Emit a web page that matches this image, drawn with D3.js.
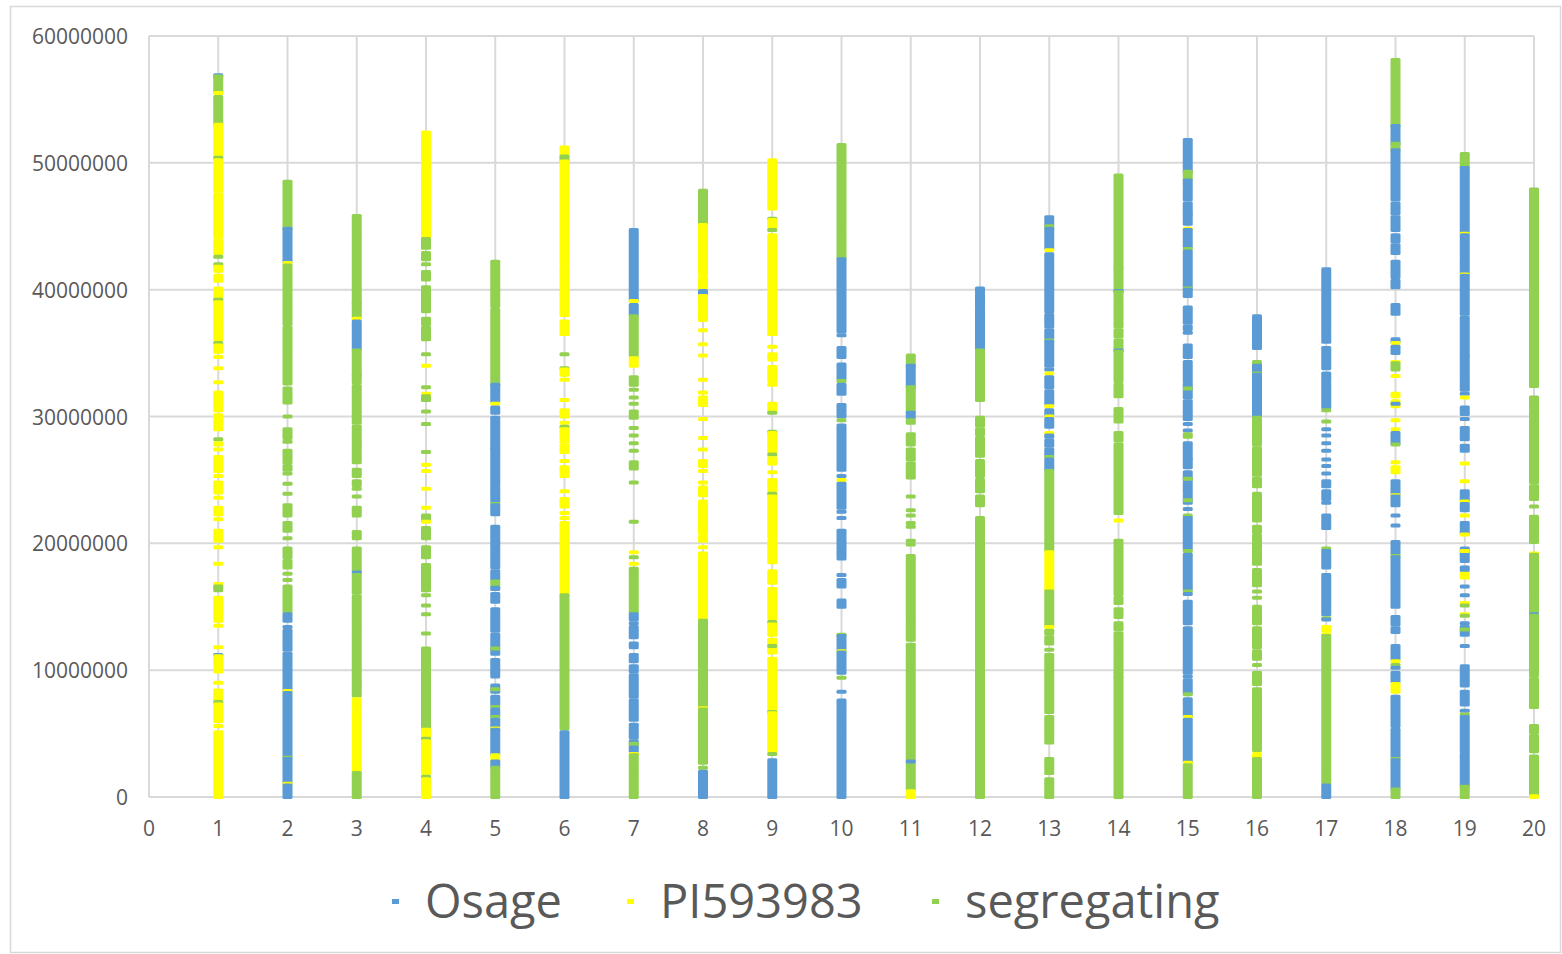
<!DOCTYPE html>
<html>
<head>
<meta charset="utf-8">
<script src="https://cdn.jsdelivr.net/npm/d3@7"></script>
<style>
body{margin:0;background:#fff}
text{font-family:"Open Sans",sans-serif;fill:#595959}
</style>
</head>
<body>
<svg></svg>
<script>
// genotype runs per chromosome: [start Mb, end Mb, call]
// O = Osage, P = PI593983, S = segregating
var chr1=[[56.8,56.9,"O"],[55.6,56.8,"S"],[55.5,55.5,"P"],[53.0,55.2,"S"],[50.5,53.0,"P"],[50.4,50.4,"S"],[47.8,50.2,"P"],[44.2,47.5,"P"],[42.9,43.9,"P"],[42.6,42.6,"S"],[42.0,42.0,"S"],[41.5,41.8,"P"],[40.7,41.1,"P"],[39.3,40.1,"P"],[39.2,39.2,"S"],[37.6,39.0,"P"],[36.1,37.4,"P"],[35.8,35.8,"S"],[35.1,35.6,"P"],[34.7,34.7,"P"],[33.8,33.8,"P"],[32.7,32.7,"P"],[30.5,31.9,"P"],[29.0,30.1,"P"],[28.2,28.2,"S"],[27.8,27.9,"P"],[27.4,27.4,"P"],[25.7,26.8,"P"],[25.3,25.3,"P"],[24.0,24.8,"P"],[23.6,23.6,"P"],[22.3,22.8,"P"],[21.9,21.9,"P"],[20.2,21.0,"P"],[19.7,19.7,"P"],[18.4,18.4,"P"],[16.6,16.8,"P"],[16.3,16.6,"S"],[13.9,15.7,"P"],[13.5,13.5,"P"],[11.8,11.8,"P"],[11.2,11.2,"O"],[9.9,11.1,"P"],[9.0,9.0,"P"],[7.7,8.4,"P"],[7.5,7.5,"S"],[6.0,7.3,"P"],[5.6,5.6,"P"],[1.3,5.1,"P"],[0,1.1,"P"]]
var chr2=[[44.8,48.5,"S"],[42.2,44.8,"O"],[42.1,42.1,"P"],[39.3,41.9,"S"],[37.3,39.1,"S"],[35.0,37.0,"S"],[32.6,34.8,"S"],[31.1,32.2,"S"],[30.0,30.0,"S"],[28.3,29.0,"S"],[28.0,28.0,"S"],[26.4,27.3,"S"],[25.8,26.1,"S"],[25.5,25.5,"S"],[24.7,24.7,"S"],[23.9,23.9,"S"],[22.2,23.0,"S"],[21.0,21.6,"S"],[20.4,20.4,"S"],[18.9,19.6,"S"],[18.1,18.6,"S"],[17.6,17.6,"S"],[17.1,17.1,"S"],[14.6,16.6,"S"],[13.9,14.4,"O"],[13.4,13.4,"O"],[12.5,13.1,"O"],[11.6,12.3,"O"],[10.8,11.3,"O"],[8.4,10.6,"O"],[8.35,8.35,"P"],[7.1,8.2,"O"],[3.2,6.9,"O"],[3.1,3.1,"S"],[1.1,3.0,"O"],[1.05,1.05,"P"],[0,0.9,"O"]]
var chr3=[[44.1,45.8,"S"],[38.9,43.9,"S"],[37.8,38.9,"S"],[37.7,37.7,"P"],[35.3,37.5,"O"],[33.3,35.2,"S"],[32.7,33.2,"S"],[29.5,32.4,"S"],[27.9,29.2,"S"],[26.4,27.7,"S"],[25.3,25.8,"S"],[24.6,24.9,"S"],[24.3,24.3,"S"],[23.7,23.7,"S"],[22.2,22.8,"S"],[20.7,20.9,"S"],[20.4,20.5,"S"],[17.8,19.6,"S"],[17.7,17.7,"O"],[16.1,17.5,"S"],[13.4,15.8,"S"],[9.2,13.2,"S"],[8.0,9.0,"S"],[7.0,7.7,"P"],[2.0,6.7,"P"],[0,1.9,"S"]]
var chr4=[[48.0,52.4,"P"],[45.1,47.9,"P"],[44.0,45.0,"P"],[43.3,44.0,"S"],[42.4,42.9,"S"],[42.0,42.0,"S"],[40.8,41.4,"S"],[39.1,40.2,"S"],[38.3,38.9,"S"],[37.3,37.7,"S"],[36.6,37.0,"S"],[36.1,36.4,"S"],[34.9,34.9,"S"],[34.0,34.0,"P"],[32.3,32.3,"S"],[31.8,31.8,"P"],[31.3,31.6,"S"],[30.4,30.4,"S"],[29.4,29.4,"S"],[27.2,27.2,"S"],[26.2,26.2,"P"],[25.7,25.7,"P"],[24.3,24.3,"P"],[22.8,22.8,"P"],[21.8,22.2,"S"],[21.7,21.7,"P"],[20.4,21.2,"S"],[18.9,19.7,"S"],[16.3,18.3,"S"],[15.9,15.9,"S"],[15.1,15.1,"S"],[14.4,14.4,"S"],[12.9,12.9,"S"],[5.3,11.7,"S"],[4.7,5.3,"P"],[4.6,4.6,"S"],[1.9,4.4,"P"],[1.6,1.6,"S"],[0,1.4,"P"]]
var chr5=[[38.7,42.2,"S"],[32.5,38.4,"S"],[31.2,32.5,"O"],[31.0,31.0,"P"],[30.3,30.7,"O"],[27.5,29.9,"O"],[24.5,27.4,"O"],[23.3,24.3,"O"],[23.1,23.1,"S"],[22.3,23.0,"O"],[18.1,21.3,"O"],[17.2,17.8,"O"],[16.7,17.0,"S"],[16.4,16.5,"O"],[15.4,16.0,"O"],[13.1,14.8,"O"],[12.3,12.8,"O"],[11.3,12.1,"O"],[11.7,11.7,"S"],[9.8,10.8,"O"],[9.5,9.6,"O"],[8.3,8.8,"O"],[8.5,8.5,"S"],[7.3,7.9,"O"],[7.1,7.1,"S"],[6.4,6.9,"O"],[6.3,6.3,"S"],[5.6,6.1,"O"],[5.4,5.4,"P"],[3.4,5.3,"O"],[2.9,3.3,"P"],[2.4,2.8,"O"],[0,2.3,"S"]]
var chr6=[[50.5,51.2,"P"],[50.2,50.5,"S"],[44.2,50.1,"P"],[42.7,44.0,"P"],[42.0,42.5,"P"],[38.0,41.7,"P"],[36.5,37.5,"P"],[34.9,34.9,"S"],[33.8,33.8,"S"],[33.3,33.7,"P"],[32.9,32.9,"P"],[31.3,31.3,"P"],[30.0,30.5,"P"],[29.5,29.5,"P"],[29.2,29.2,"S"],[28.3,29.0,"P"],[28.0,28.0,"P"],[27.2,27.7,"P"],[26.5,26.5,"P"],[25.6,26.0,"P"],[25.3,25.3,"P"],[24.1,24.1,"P"],[22.9,23.5,"P"],[22.4,22.4,"P"],[22.0,22.0,"P"],[15.9,21.6,"P"],[9.1,15.9,"S"],[5.4,8.9,"S"],[4.1,5.1,"O"],[3.8,3.9,"O"],[0,3.6,"O"]]
var chr7=[[39.2,44.7,"O"],[39.1,39.1,"P"],[38.0,38.8,"O"],[34.8,37.9,"S"],[34.0,34.6,"P"],[32.5,33.1,"S"],[32.1,32.1,"S"],[31.5,31.5,"S"],[31.0,31.0,"S"],[29.9,30.4,"S"],[29.1,29.1,"S"],[28.5,28.5,"S"],[27.9,27.9,"S"],[27.3,27.3,"S"],[25.9,26.4,"S"],[24.8,24.8,"S"],[21.7,21.7,"S"],[19.3,19.3,"P"],[18.9,18.9,"S"],[18.4,18.4,"P"],[14.8,18.0,"S"],[14.6,14.6,"S"],[14.0,14.4,"O"],[13.7,13.7,"O"],[12.6,13.4,"O"],[11.8,12.1,"O"],[10.7,11.2,"O"],[9.9,10.3,"O"],[7.9,9.6,"O"],[6.1,7.6,"O"],[4.7,5.7,"O"],[4.2,4.4,"O"],[4.0,4.2,"S"],[3.6,3.9,"O"],[3.4,3.4,"P"],[2.3,3.3,"S"],[0,2.1,"S"]]
var chr8=[[45.1,47.8,"S"],[41.3,45.1,"P"],[40.0,41.0,"P"],[39.7,39.9,"O"],[38.5,39.5,"P"],[37.6,38.3,"P"],[36.8,36.8,"P"],[35.7,35.7,"P"],[34.8,34.8,"P"],[32.9,32.9,"P"],[31.9,31.9,"P"],[30.9,31.5,"P"],[29.8,29.8,"P"],[28.3,28.3,"P"],[27.4,27.4,"P"],[26.1,26.5,"P"],[25.7,25.7,"P"],[24.8,24.8,"P"],[23.8,24.4,"P"],[20.8,23.3,"P"],[20.2,20.5,"P"],[19.7,19.7,"P"],[14.0,19.2,"P"],[13.4,13.9,"S"],[9.2,13.2,"S"],[7.1,9.0,"S"],[7.0,7.0,"P"],[2.7,6.9,"S"],[2.3,2.3,"S"],[0,2.0,"O"]]
var chr9=[[48.8,50.2,"P"],[48.1,48.7,"P"],[47.5,47.9,"P"],[46.4,47.3,"P"],[45.6,45.6,"S"],[44.9,45.5,"P"],[44.7,44.7,"S"],[36.5,44.3,"P"],[35.5,35.5,"P"],[34.5,34.9,"P"],[32.8,33.9,"P"],[32.5,32.5,"P"],[30.4,31.0,"P"],[30.3,30.3,"S"],[28.8,28.8,"S"],[27.2,28.7,"P"],[27.0,27.0,"S"],[26.3,26.7,"P"],[25.6,25.6,"P"],[24.0,25.0,"P"],[23.9,23.9,"S"],[20.5,23.7,"P"],[18.5,20.2,"P"],[16.9,17.8,"P"],[14.1,16.4,"P"],[13.8,13.8,"S"],[12.8,13.6,"P"],[11.4,12.4,"P"],[11.9,11.9,"S"],[6.8,10.9,"P"],[6.7,6.7,"S"],[3.6,6.6,"P"],[3.4,3.4,"S"],[0,2.9,"O"]]
var chr10=[[45.1,51.4,"S"],[42.5,44.9,"S"],[40.9,42.4,"O"],[36.7,40.7,"O"],[36.4,36.4,"O"],[34.7,35.4,"O"],[33.0,34.1,"O"],[32.8,32.8,"S"],[31.8,32.5,"O"],[30.0,30.9,"O"],[29.7,29.7,"S"],[25.8,29.3,"O"],[25.3,25.3,"O"],[25.0,25.0,"P"],[24.2,24.7,"O"],[22.8,24.0,"O"],[22.5,22.5,"O"],[22.0,22.0,"O"],[18.8,21.0,"O"],[17.5,17.5,"O"],[16.6,17.1,"O"],[15.0,15.5,"O"],[12.8,12.8,"S"],[11.6,12.7,"O"],[11.5,11.5,"P"],[9.8,11.4,"O"],[9.4,9.4,"S"],[8.3,8.3,"O"],[7.0,7.6,"O"],[5.3,6.8,"O"],[0,5.1,"O"]]
var chr11=[[34.0,34.8,"S"],[32.3,34.0,"O"],[30.4,32.3,"S"],[29.9,30.3,"O"],[29.5,29.7,"S"],[27.8,28.6,"S"],[26.6,27.4,"S"],[25.2,26.3,"S"],[23.7,23.7,"S"],[22.6,22.6,"S"],[22.2,22.2,"S"],[21.6,21.6,"S"],[21.3,21.3,"S"],[20.2,20.2,"S"],[19.9,19.9,"S"],[14.1,19.0,"S"],[12.4,13.9,"S"],[11.6,12.0,"S"],[0.6,11.4,"S"],[2.8,2.8,"O"],[0,0.45,"P"]]
var chr12=[[39.8,40.1,"O"],[38.7,39.6,"O"],[37.6,38.5,"O"],[35.4,37.5,"O"],[31.3,35.2,"S"],[29.3,29.9,"S"],[28.6,29.0,"S"],[27.4,28.3,"S"],[26.9,27.2,"S"],[25.8,26.5,"S"],[25.3,25.6,"S"],[24.5,25.0,"S"],[24.1,24.3,"S"],[23.0,23.7,"S"],[20.2,22.0,"S"],[19.0,20.0,"S"],[16.7,18.9,"S"],[16.1,16.5,"S"],[14.7,15.9,"S"],[13.5,14.6,"S"],[11.3,13.3,"S"],[0,11.1,"S"]]
var chr13=[[45.1,45.7,"O"],[44.9,45.0,"S"],[43.3,44.8,"O"],[43.1,43.1,"P"],[42.6,42.8,"O"],[38.3,42.4,"O"],[37.1,38.0,"O"],[36.2,36.8,"O"],[36.0,36.0,"S"],[34.0,35.9,"O"],[33.7,33.7,"O"],[33.4,33.4,"P"],[32.3,33.1,"O"],[31.0,32.0,"O"],[30.8,30.8,"P"],[30.1,30.5,"O"],[30.0,30.0,"P"],[29.2,29.8,"O"],[28.7,28.7,"P"],[28.4,28.5,"O"],[27.7,28.1,"O"],[26.9,27.4,"O"],[26.8,26.8,"S"],[25.8,26.6,"O"],[19.4,25.7,"S"],[17.8,19.3,"P"],[16.3,17.6,"P"],[13.5,16.2,"S"],[13.4,13.4,"P"],[12.9,13.1,"S"],[12.1,12.6,"S"],[11.6,11.6,"S"],[6.7,11.2,"S"],[4.3,6.3,"S"],[1.9,3.0,"S"],[0,1.4,"S"]]
var chr14=[[41.7,49.0,"S"],[40.6,41.6,"S"],[39.9,40.4,"S"],[39.9,39.9,"O"],[39.0,39.8,"S"],[37.7,38.8,"S"],[37.1,37.5,"S"],[36.3,36.8,"S"],[35.2,36.0,"S"],[35.2,35.2,"O"],[32.8,35.1,"S"],[32.0,32.5,"S"],[31.6,31.8,"S"],[29.6,30.6,"S"],[28.1,28.7,"S"],[25.5,27.8,"S"],[22.4,25.3,"S"],[21.8,21.8,"P"],[19.1,20.2,"S"],[16.0,18.9,"S"],[15.3,15.7,"S"],[14.2,14.8,"S"],[13.2,13.7,"S"],[11.4,12.9,"S"],[9.5,11.2,"S"],[0,9.4,"S"]]
var chr15=[[49.3,51.8,"O"],[48.7,49.3,"S"],[48.1,48.6,"O"],[47.1,47.9,"O"],[46.0,46.8,"O"],[45.2,45.9,"O"],[44.8,44.8,"P"],[43.4,44.7,"O"],[43.2,43.2,"S"],[40.2,43.0,"O"],[40.1,40.1,"S"],[39.5,40.0,"O"],[37.4,38.6,"O"],[36.9,37.1,"O"],[36.6,36.6,"O"],[34.7,35.6,"O"],[32.7,34.3,"O"],[31.5,32.5,"O"],[32.2,32.2,"S"],[29.8,31.2,"O"],[29.4,29.4,"O"],[28.9,28.9,"O"],[28.4,28.6,"S"],[26.7,27.9,"O"],[26.0,26.6,"O"],[24.0,25.6,"O"],[25.1,25.1,"S"],[23.2,23.8,"O"],[23.4,23.4,"S"],[22.7,22.7,"O"],[22.2,22.2,"S"],[19.6,22.0,"O"],[19.4,19.4,"S"],[16.4,19.1,"O"],[16.2,16.2,"S"],[16.0,16.0,"O"],[13.7,15.4,"O"],[9.8,13.3,"O"],[9.5,9.5,"O"],[8.2,9.2,"O"],[8.1,8.1,"S"],[7.1,7.7,"O"],[6.4,6.9,"O"],[6.3,6.3,"P"],[2.8,6.1,"O"],[2.7,2.7,"P"],[0,2.5,"S"]]
var chr16=[[35.4,37.9,"O"],[34.0,34.3,"S"],[33.5,34.0,"O"],[33.4,33.4,"S"],[30.0,33.3,"O"],[27.8,29.9,"S"],[25.4,27.5,"S"],[24.5,25.1,"S"],[21.8,23.9,"S"],[20.9,21.3,"S"],[18.4,20.6,"S"],[16.7,17.9,"S"],[16.2,16.2,"S"],[15.7,15.7,"S"],[14.5,15.0,"S"],[13.7,14.3,"S"],[11.8,13.3,"S"],[10.9,11.5,"S"],[10.4,10.4,"S"],[8.9,9.8,"S"],[6.4,8.5,"S"],[3.7,6.2,"S"],[3.2,3.4,"P"],[1.1,3.0,"S"],[0,0.9,"S"]]
var chr17=[[37.4,41.6,"O"],[36.9,37.2,"O"],[35.9,36.7,"O"],[33.8,35.4,"O"],[32.7,33.4,"O"],[30.7,32.5,"O"],[30.5,30.5,"S"],[29.6,29.6,"S"],[29.0,29.0,"O"],[28.5,28.5,"O"],[27.9,27.9,"O"],[27.3,27.3,"O"],[26.6,26.6,"O"],[26.1,26.1,"O"],[25.5,25.5,"O"],[24.5,24.9,"O"],[23.5,24.1,"O"],[23.2,23.2,"O"],[21.8,22.2,"O"],[21.2,21.6,"O"],[19.6,19.6,"S"],[18.1,19.4,"O"],[15.9,17.5,"O"],[14.6,15.7,"O"],[14.4,14.4,"O"],[14.1,14.1,"S"],[14.0,14.0,"O"],[13.1,13.4,"P"],[12.8,12.8,"P"],[2.4,12.7,"S"],[1.1,2.2,"S"],[0,0.9,"O"]]
var chr18=[[52.9,58.1,"S"],[51.5,52.9,"O"],[51.0,51.5,"S"],[47.1,51.0,"O"],[46.0,46.8,"O"],[44.7,45.7,"O"],[43.8,44.3,"O"],[42.9,43.5,"O"],[41.7,42.2,"O"],[41.0,41.5,"O"],[40.2,40.7,"O"],[38.1,38.8,"O"],[35.9,36.1,"O"],[35.8,35.8,"P"],[35.0,35.5,"O"],[34.3,34.3,"P"],[33.7,34.2,"S"],[33.2,33.2,"P"],[31.6,31.8,"P"],[30.8,31.2,"P"],[31.0,31.0,"O"],[29.7,29.7,"P"],[29.0,29.0,"P"],[27.9,28.7,"O"],[27.8,27.8,"S"],[26.4,26.4,"P"],[25.6,26.0,"P"],[23.9,24.9,"O"],[23.8,23.8,"P"],[23.0,23.7,"O"],[22.2,22.2,"O"],[21.4,21.4,"O"],[19.2,20.1,"O"],[19.0,19.0,"S"],[16.9,18.9,"O"],[15.0,16.7,"O"],[14.0,14.2,"O"],[13.6,13.8,"O"],[13.0,13.3,"O"],[10.9,11.9,"O"],[10.7,10.7,"P"],[10.4,10.4,"S"],[10.2,10.2,"O"],[9.1,9.8,"O"],[8.3,8.9,"P"],[5.6,7.9,"O"],[3.2,5.3,"O"],[3.0,3.0,"S"],[0.7,2.9,"O"],[0,0.6,"S"]]
var chr19=[[49.7,50.7,"S"],[44.5,49.6,"O"],[44.4,44.4,"P"],[42.7,44.3,"O"],[41.3,42.5,"O"],[41.2,41.2,"P"],[38.1,41.1,"O"],[34.8,37.8,"O"],[32.8,34.7,"O"],[32.1,32.6,"O"],[31.8,31.8,"O"],[31.5,31.5,"P"],[30.2,30.7,"O"],[29.8,29.8,"O"],[28.2,29.1,"O"],[27.3,27.7,"O"],[26.3,26.3,"P"],[24.9,24.9,"P"],[23.4,24.1,"O"],[23.3,23.3,"P"],[22.6,23.1,"O"],[22.2,22.2,"P"],[20.8,21.6,"O"],[20.7,20.7,"P"],[18.6,19.6,"O"],[19.4,19.4,"P"],[17.9,18.1,"O"],[17.3,17.6,"P"],[16.6,16.6,"O"],[15.9,15.9,"O"],[15.3,15.3,"P"],[15.1,15.1,"S"],[14.4,14.4,"P"],[14.3,14.3,"S"],[13.7,13.7,"O"],[12.8,13.4,"O"],[13.2,13.2,"S"],[11.9,11.9,"O"],[8.8,10.3,"O"],[7.3,8.3,"O"],[6.8,6.8,"O"],[6.5,6.5,"S"],[3.6,6.3,"O"],[0.9,3.4,"O"],[0,0.8,"S"]]
var chr20=[[41.4,47.9,"S"],[33.8,41.2,"S"],[32.4,33.7,"S"],[30.0,31.5,"S"],[27.8,29.8,"S"],[24.8,27.7,"S"],[23.5,24.5,"S"],[22.9,22.9,"S"],[21.1,22.1,"S"],[20.1,20.9,"S"],[19.2,19.2,"P"],[16.5,19.1,"S"],[15.8,16.4,"S"],[14.6,15.6,"S"],[14.4,14.4,"O"],[9.8,14.3,"S"],[9.6,9.6,"S"],[7.1,9.3,"S"],[5.1,5.6,"S"],[3.6,4.8,"S"],[0.1,3.2,"S"],[0,0.05,"P"]]

var chromosomes=[chr1,chr2,chr3,chr4,chr5,chr6,chr7,chr8,chr9,chr10,chr11,chr12,chr13,chr14,chr15,chr16,chr17,chr18,chr19,chr20]
var xTicks=[0,1,2,3,4,5,6,7,8,9,10,11,12,13,14,15,16,17,18,19,20]
var yTicks=[0,10000000,20000000,30000000,40000000,50000000,60000000]
var legendCodes=["O","P","S"]
var legendNames=["Osage","PI593983","segregating"]
var colors={O:"#5B9BD5",P:"#FFFF00",S:"#92D050"}

var screen={width:1562,height:954}
var plot={left:149,right:1534,top:36,bottom:797}

var svg=d3.select("svg")
    .attr("width",screen.width)
    .attr("height",screen.height)

svg.append("rect")
    .attr("x",10.5).attr("y",6.5)
    .attr("width",1550).attr("height",946)
    .attr("fill","#fff")
    .attr("stroke","#D9D9D9")
    .attr("stroke-width",1.5)

var xScale=d3.scaleLinear().domain([0,20]).range([plot.left,plot.right])
var yScale=d3.scaleLinear().domain([0,60000000]).range([plot.bottom,plot.top])

// gridlines
svg.append("g")
    .selectAll("line")
    .data(yTicks)
    .enter()
    .append("line")
    .attr("x1",plot.left).attr("x2",plot.right)
    .attr("y1",function(d){return yScale(d)})
    .attr("y2",function(d){return yScale(d)})
    .attr("stroke","#D9D9D9")
    .attr("stroke-width",2)

svg.append("g")
    .selectAll("line")
    .data(xTicks)
    .enter()
    .append("line")
    .attr("x1",function(d){return xScale(d)})
    .attr("x2",function(d){return xScale(d)})
    .attr("y1",plot.top).attr("y2",plot.bottom)
    .attr("stroke","#D9D9D9")
    .attr("stroke-width",2)

// axis labels
svg.append("g")
    .selectAll("text")
    .data(yTicks)
    .enter()
    .append("text")
    .attr("x",128)
    .attr("y",function(d){return yScale(d)+8})
    .attr("text-anchor","end")
    .style("font-size","21px")
    .text(function(d){return d3.format("d")(d)})

svg.append("g")
    .selectAll("text")
    .data(xTicks)
    .enter()
    .append("text")
    .attr("x",function(d){return xScale(d)})
    .attr("y",836)
    .attr("text-anchor","middle")
    .style("font-size","21px")
    .text(function(d){return d})

// marker runs
var half=2
chromosomes.forEach(function(runs,i)
{
    svg.append("g")
    .selectAll("rect")
    .data(runs)
    .enter()
    .append("rect")
    .attr("x",xScale(i+1)-5)
    .attr("width",10)
    .attr("y",function(r){return yScale(r[1]*1e6)-half})
    .attr("height",function(r){return yScale(r[0]*1e6)-yScale(r[1]*1e6)+2*half})
    .attr("rx",1.5)
    .attr("fill",function(r){return colors[r[2]]})
})

// legend
var legendX=[392,627,932]
var legend=svg.append("g")
    .selectAll("g")
    .data(legendCodes)
    .enter()
    .append("g")

legend.append("rect")
    .attr("x",function(d,i){return legendX[i]})
    .attr("y",899)
    .attr("width",7).attr("height",5)
    .attr("fill",function(d){return colors[d]})

legend.append("text")
    .attr("x",function(d,i){return legendX[i]+33})
    .attr("y",918)
    .style("font-size","47px")
    .text(function(d,i){return legendNames[i]})
</script>
</body>
</html>
